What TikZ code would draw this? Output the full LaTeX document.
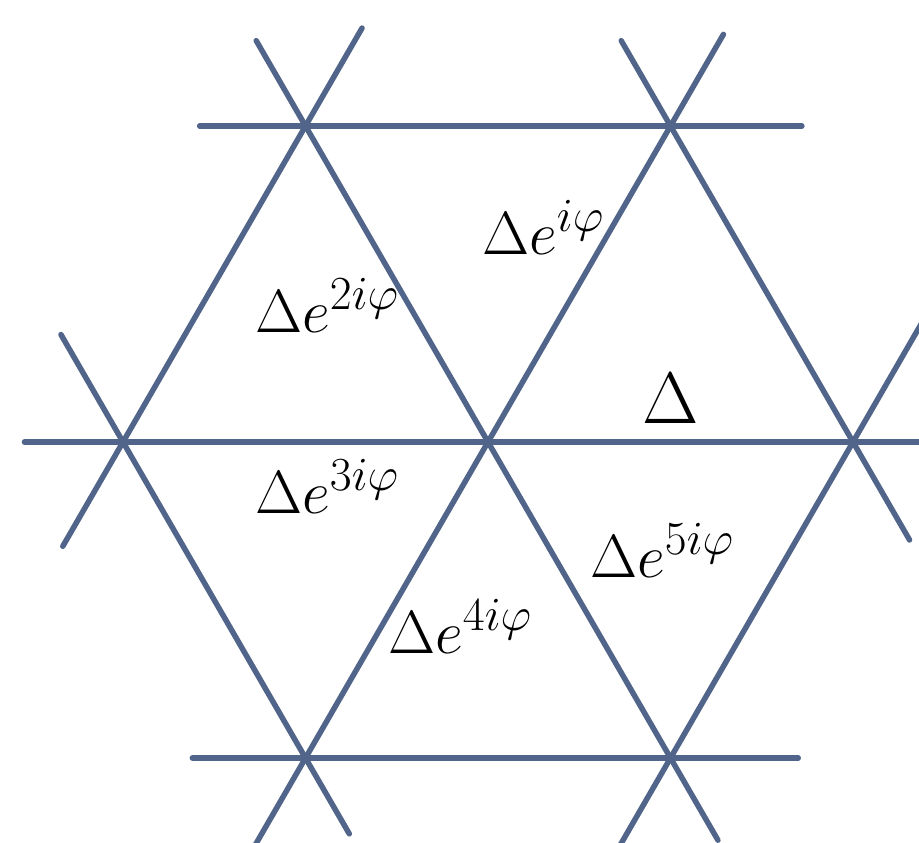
\documentclass[tikz,border=0pt]{standalone}
\usepackage{fix-cm}
\usetikzlibrary{calc}
\definecolor{latblue}{RGB}{81,101,139}
\DeclareMathSizes{61}{61}{47.5}{36}

\begin{document}
\begin{tikzpicture}[x=1pt,y=-1pt,line cap=round,line join=round,
  lattice/.style={draw=latblue,line width=5.5pt},
  phase/.style={inner sep=0pt,anchor=base west,font=\fontsize{61}{70}\selectfont},
  plain/.style={inner sep=0pt,anchor=base west,font=\fontsize{73}{84}\selectfont}]

\useasboundingbox (0,0) rectangle (919,843);
\clip (0,0) rectangle (919,843);

% Lattice sites: centre, its six neighbours.
\coordinate (O) at (488,442);
\coordinate (L) at (123,442);
\coordinate (R) at (853,442);
\coordinate (TL) at (305.5,126);
\coordinate (TR) at (670.5,126);
\coordinate (BL) at (305.5,758);
\coordinate (BR) at (670.5,758);

% Horizontal bonds.
\draw[lattice] ($(TL)!-0.29!(TR)$) -- ($(TL)!1.36!(TR)$);
\draw[lattice] ($(L)!-0.27!(O)$) -- ($(L)!2.4!(O)$);
\draw[lattice] ($(BL)!-0.31!(BR)$) -- ($(BL)!1.35!(BR)$);

% Bonds at +-60 degrees.
\draw[lattice] ($(TL)!-0.27!(O)$) -- ($(TL)!2.26!(O)$);
\draw[lattice] ($(TR)!-0.29!(O)$) -- ($(TR)!2.35!(O)$);
\draw[lattice] ($(TL)!-0.31!(L)$) -- ($(TL)!1.33!(L)$);
\draw[lattice] ($(TR)!-0.27!(R)$) -- ($(TR)!1.31!(R)$);
\draw[lattice] ($(L)!-0.34!(BL)$) -- ($(L)!1.24!(BL)$);
\draw[lattice] ($(R)!-0.4!(BR)$) -- ($(R)!1.35!(BR)$);

% Order parameter on each triangle.
\node[plain] (d0) at (642,423) {$\Delta$};
\node[phase] (d1) at (482,254) {$\Delta e^{i\varphi}$};
\node[phase] (d2) at (255,332) {$\Delta e^{2i\varphi}$};
\node[phase] (d3) at (255,513) {$\Delta e^{3i\varphi}$};
\node[phase] (d4) at (388,653) {$\Delta e^{4i\varphi}$};
\node[phase] (d5) at (590,577) {$\Delta e^{5i\varphi}$};
\end{tikzpicture}
\end{document}
